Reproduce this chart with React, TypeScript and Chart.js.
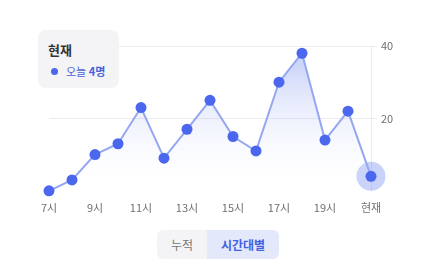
import React, { useEffect, useRef } from "react";
import { Chart, registerables } from "chart.js";

Chart.register(...registerables);

const categories = ["7시", "8시", "9시", "10시", "11시", "12시", "13시", "14시", "15시", "16시", "17시", "18시", "19시", "20시", "현재"];
const visitors = [0, 3, 10, 13, 23, 9, 17, 25, 15, 11, 30, 38, 14, 22, 4];
const yTicks = [20, 40];
const tooltipTitle = "현재";
const tooltipPrefix = "오늘 ";
const tabs = ["누적", "시간대별"];

const FONT = "'Noto Sans CJK KR', 'Noto Sans', sans-serif";

export default function App() {
  const ref = useRef<HTMLCanvasElement | null>(null);

  useEffect(() => {
    if (!ref.current) return;
    const last = visitors.length - 1;
    const halo = visitors.map((v, i) => (i === last ? v : null));
    const chart = new Chart(ref.current, {
      type: "line",
      data: {
        labels: categories,
        datasets: [
          {
            data: visitors,
            order: 1,
            borderColor: "#94a7f0",
            borderWidth: 2,
            tension: 0,
            pointRadius: 5.5,
            pointHoverRadius: 5.5,
            pointBackgroundColor: "#4a67ee",
            pointBorderWidth: 0,
            fill: "origin",
            clip: false as any,
            backgroundColor: (ctx: any) => {
              const area = ctx.chart.chartArea;
              if (!area) return "rgba(120,140,240,0.2)";
              const g = ctx.chart.ctx.createLinearGradient(0, area.top, 0, area.bottom);
              g.addColorStop(0, "rgba(110,135,240,0.45)");
              g.addColorStop(1, "rgba(255,255,255,0)");
              return g;
            },
          },
          {
            data: halo,
            order: 2,
            showLine: false,
            pointRadius: 14.5,
            pointHoverRadius: 14.5,
            pointBackgroundColor: "rgba(100,125,240,0.35)",
            pointBorderWidth: 0,
            clip: false as any,
          },
        ],
      },
      options: {
        animation: false,
        responsive: false,
        events: [],
        layout: { padding: { top: 38, left: 41, right: 0, bottom: 4 } },
        plugins: { legend: { display: false }, tooltip: { enabled: false } },
        scales: {
          x: {
            offset: false,
            grid: { display: false, drawTicks: false },
            border: { display: false },
            ticks: {
              autoSkip: false,
              maxRotation: 0,
              padding: 10,
              color: "#707070",
              font: { size: 11, family: FONT },
              callback: (_v: any, i: number) => (i % 2 === 0 ? categories[i] : ""),
            },
          },
          y: {
            position: "right",
            min: 0,
            max: yTicks[yTicks.length - 1],
            afterBuildTicks: (scale: any) => {
              scale.ticks = [0, ...yTicks].map((v) => ({ value: v }));
            },
            afterFit: (scale: any) => {
              scale.width = 50;
            },
            grid: {
              color: (ctx: any) => (ctx.tick && ctx.tick.value === 0 ? "rgba(0,0,0,0)" : "#ececec"),
              tickLength: 6,
            },
            border: { display: true, color: "#ececec" },
            ticks: {
              padding: 4,
              color: "#707070",
              font: { size: 11, family: FONT },
              callback: (v: any) => (v === 0 ? "" : String(v)),
            },
          },
        },
      },
    });
    return () => chart.destroy();
  }, []);

  const lastVal = visitors[visitors.length - 1];

  return (
    <div style={{ position: "relative", width: 413, height: 259, fontFamily: FONT }}>
      <canvas ref={ref} width={413} height={220} style={{ position: "absolute", left: 0, top: 0, width: 413, height: 220 }} />
      <div
        style={{
          position: "absolute",
          left: 30,
          top: 22,
          width: 81,
          height: 58,
          background: "#f4f4f6",
          borderRadius: 8,
          boxSizing: "border-box",
          padding: "11px 0 0 10px",
        }}
      >
        <div style={{ fontSize: 13, fontWeight: 700, color: "#333", lineHeight: "18px" }}>{tooltipTitle}</div>
        <div style={{ display: "flex", alignItems: "center", marginTop: 4, fontSize: 11, color: "#4a63d8", lineHeight: "16px" }}>
          <span style={{ width: 7, height: 7, borderRadius: "50%", background: "#4a67ee", display: "inline-block", marginLeft: 3, marginRight: 8 }} />
          <span>
            {tooltipPrefix}
            <b>{lastVal}명</b>
          </span>
        </div>
      </div>
      <div
        style={{
          position: "absolute",
          left: 149,
          top: 222,
          height: 29,
          display: "flex",
          borderRadius: 6,
          overflow: "hidden",
          fontSize: 12,
        }}
      >
        <div style={{ width: 50, background: "#f4f4f6", color: "#777", display: "flex", alignItems: "center", justifyContent: "center" }}>{tabs[0]}</div>
        <div style={{ width: 72, background: "#e3e8fb", color: "#4462e0", fontWeight: 700, display: "flex", alignItems: "center", justifyContent: "center" }}>{tabs[1]}</div>
      </div>
    </div>
  );
}
